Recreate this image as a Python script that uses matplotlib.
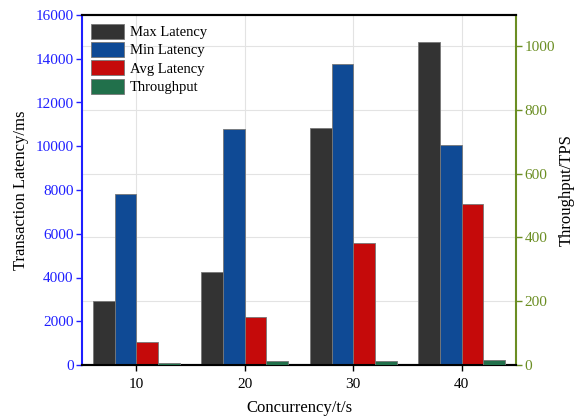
import matplotlib.pyplot as plt
from matplotlib.ticker import FixedLocator

# Latency (ms) and throughput (TPS) per concurrency level
concurrency = [10, 20, 30, 40]
max_latency = [2910, 4240, 10850, 14780]
min_latency = [7800, 10770, 13750, 10070]
avg_latency = [1050, 2210, 5590, 7370]
throughput = [6, 13.5, 13.5, 16.6]

plt.rcParams['font.family'] = ['Liberation Serif', 'DejaVu Serif']

left_color = '#1f1fff'
right_color = '#6b8e23'
edge = '#777777'
w = 2.0

fig = plt.figure(figsize=(5.83, 4.19), dpi=100)
ax1 = fig.add_axes([82 / 583, 1 - 365 / 419, 434 / 583, 350 / 419])
ax2 = ax1.twinx()

b1 = ax1.bar([c - 3 for c in concurrency], max_latency, w, color='#333333', edgecolor=edge, linewidth=0.6, label='Max Latency', zorder=3)
b2 = ax1.bar([c - 1 for c in concurrency], min_latency, w, color='#0f4a95', edgecolor=edge, linewidth=0.6, label='Min Latency', zorder=3)
b3 = ax1.bar([c + 1 for c in concurrency], avg_latency, w, color='#c50a0a', edgecolor=edge, linewidth=0.6, label='Avg Latency', zorder=3)
b4 = ax2.bar([c + 3 for c in concurrency], throughput, w, color='#21704b', edgecolor=edge, linewidth=0.6, label='Throughput', zorder=3)

ax1.set_xlim(5, 45)
ax1.set_ylim(0, 16000)
ax2.set_ylim(0, 1097)
ax1.set_xticks(concurrency)
ax1.set_yticks(range(0, 16001, 2000))
ax2.set_yticks(range(0, 1001, 200))

# horizontal grid follows the right axis, drawn behind the bars
grid_pos = [t * 16000 / 1097 for t in range(200, 1001, 200)]
ax1.yaxis.set_minor_locator(FixedLocator(grid_pos))
ax1.grid(which='minor', axis='y', color='#e3e3e3', linewidth=0.8, zorder=0)
ax1.grid(which='major', axis='x', color='#e3e3e3', linewidth=0.8, zorder=0)
ax1.tick_params(axis='y', which='minor', length=0)
ax1.set_axisbelow(True)

ax1.tick_params(axis='y', colors=left_color, labelsize=11, direction='out', length=4, width=1, pad=2)
ax1.tick_params(axis='x', labelsize=11, direction='out', length=4, width=1, pad=5)
ax2.tick_params(axis='y', colors=right_color, labelsize=11, direction='out', length=4, width=1, pad=2)

ax1.spines['left'].set_color(left_color)
ax1.spines['left'].set_linewidth(1.5)
ax2.spines['left'].set_visible(False)
ax2.spines['right'].set_color(right_color)
ax2.spines['right'].set_linewidth(1.5)
ax1.spines['right'].set_visible(False)
for ax in (ax1, ax2):
    ax.spines['top'].set_linewidth(1.5)
    ax.spines['bottom'].set_linewidth(1.5)

ax1.set_xlabel('Concurrency/t/s', fontsize=12, labelpad=7)
ax1.set_ylabel('Transaction Latency/ms', fontsize=12, labelpad=5)
ax2.set_ylabel('Throughput/TPS', fontsize=12, labelpad=3)

ax2.legend([b1, b2, b3, b4], ['Max Latency', 'Min Latency', 'Avg Latency', 'Throughput'],
           loc='upper left', frameon=False, fontsize=10.5, handlelength=2.3, handleheight=1.2,
           labelspacing=0.2, handletextpad=0.4, borderaxespad=0.3, borderpad=0.3)

fig.savefig('out.png', dpi=100)
